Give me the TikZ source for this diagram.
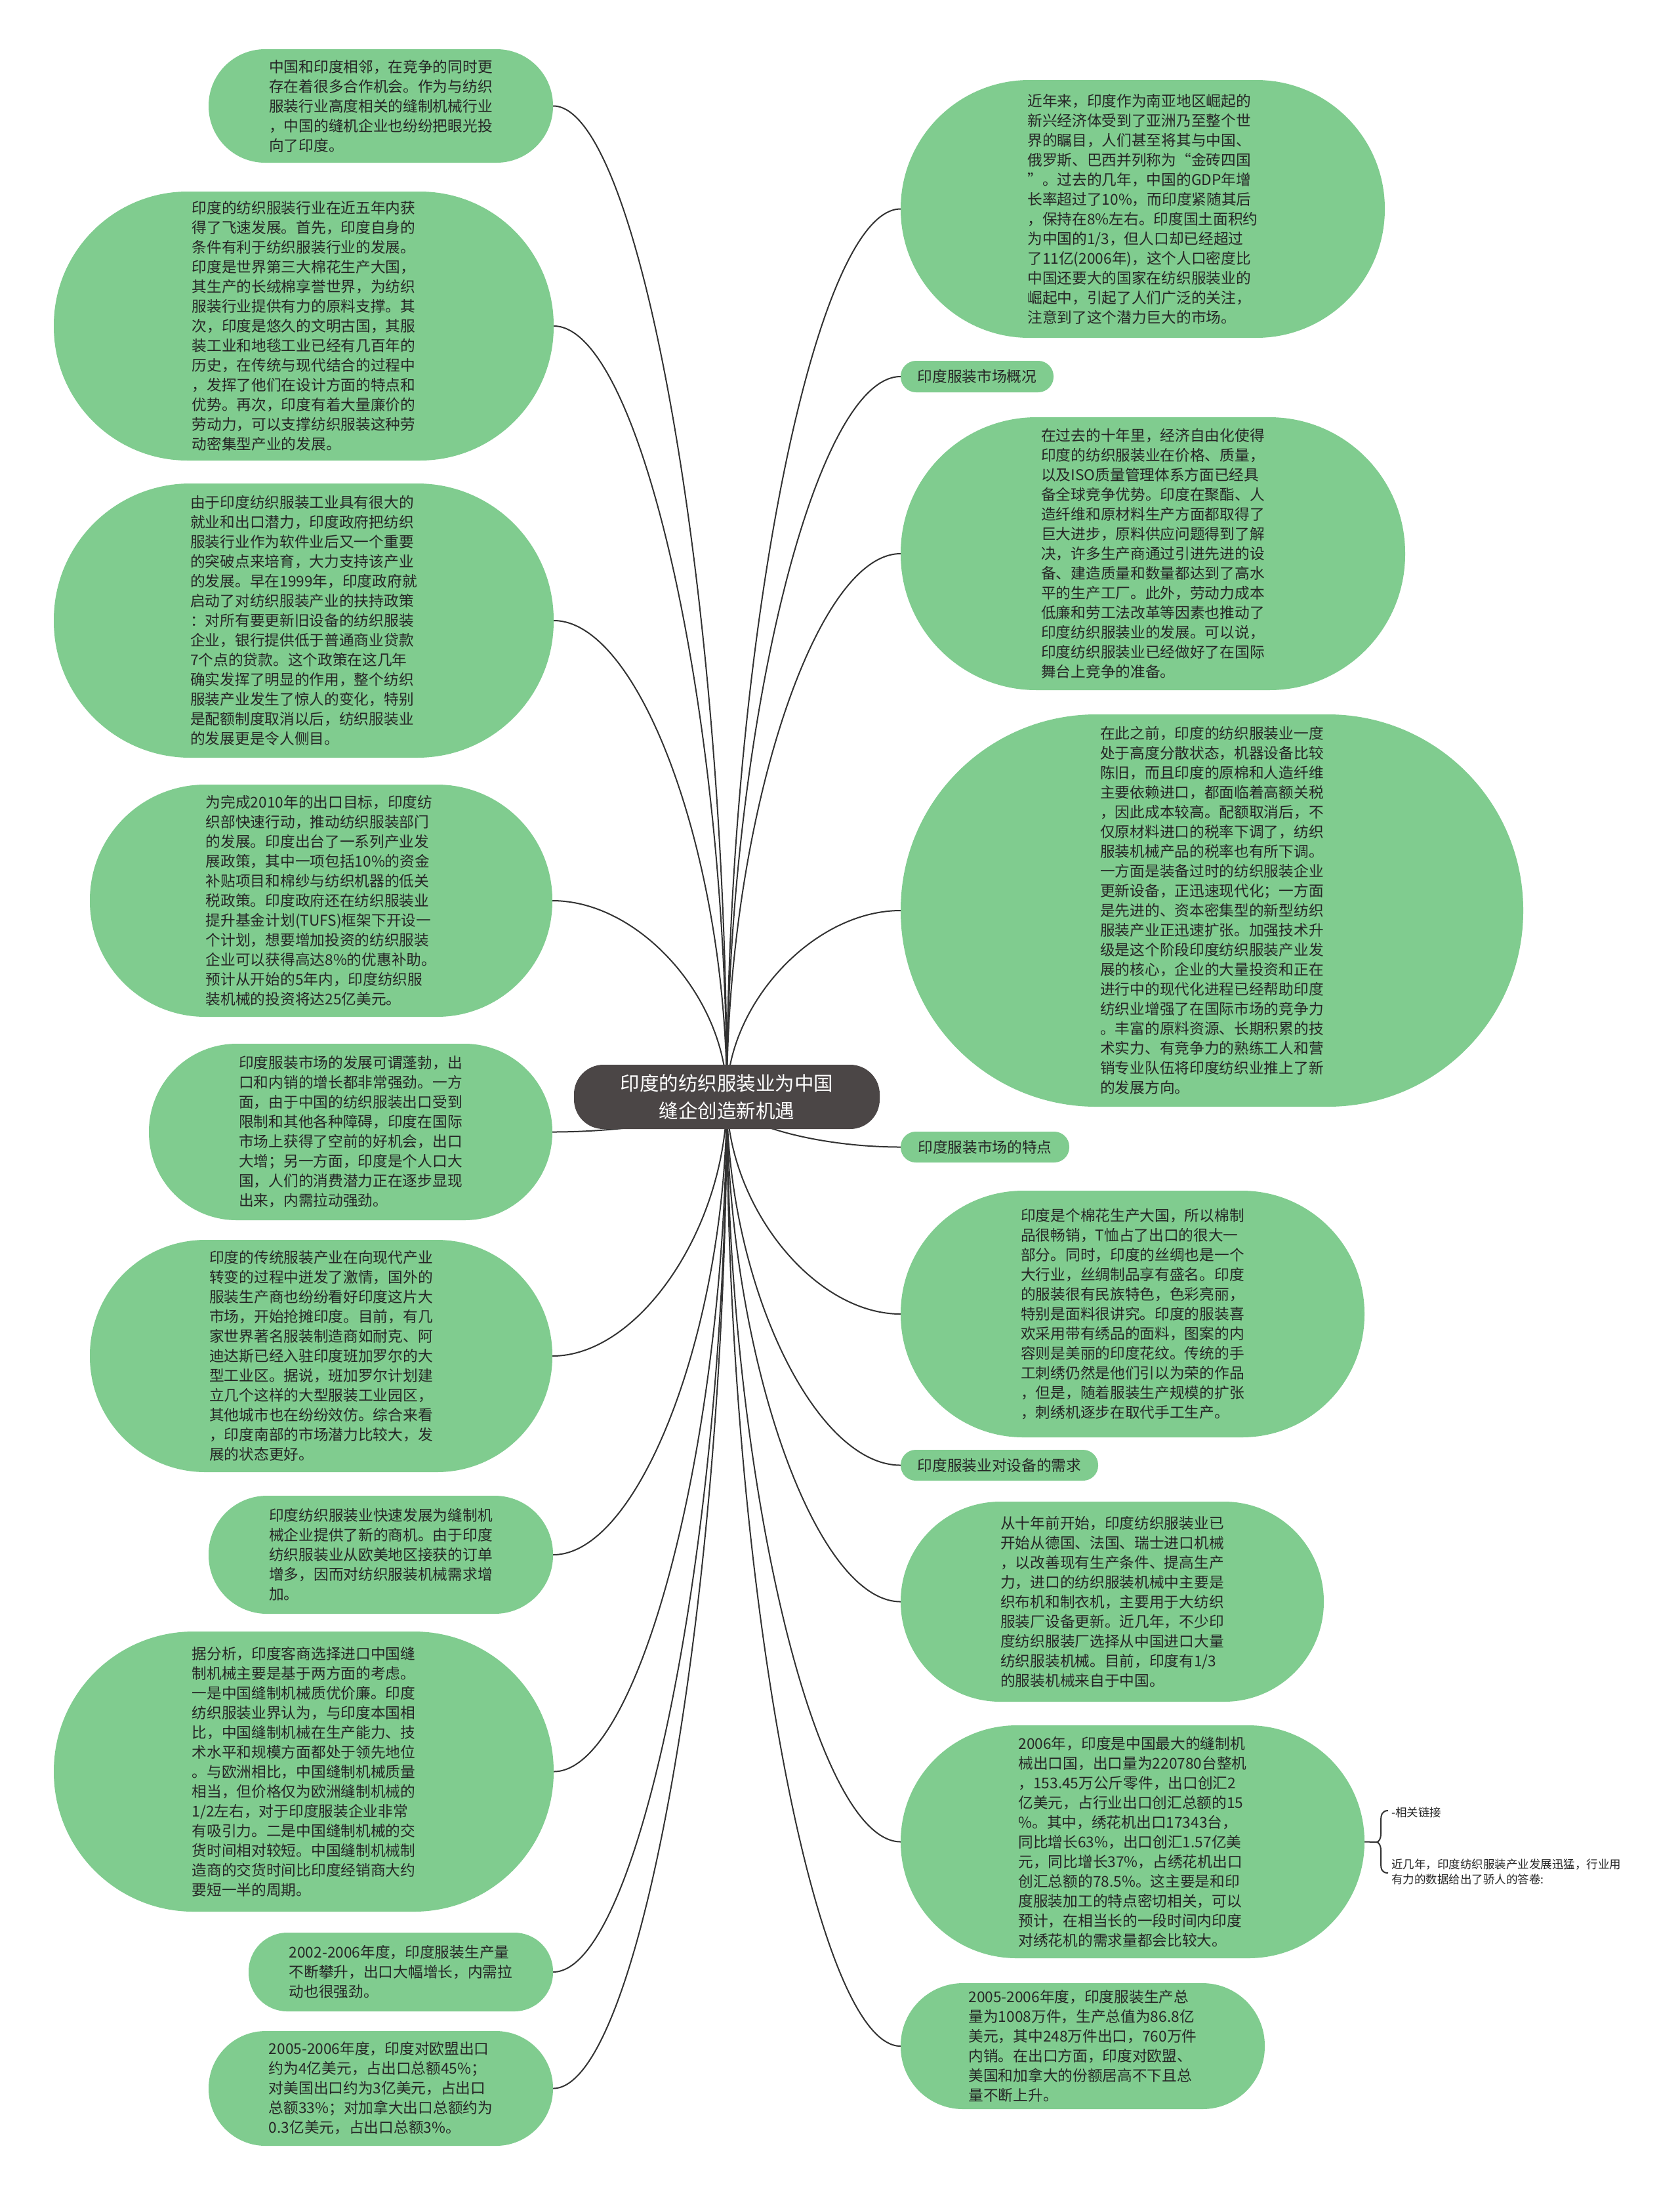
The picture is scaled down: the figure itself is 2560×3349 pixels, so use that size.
\documentclass[tikz,border=0pt]{standalone}
\usepackage{fontspec}
\setmainfont{Noto Sans CJK SC}
\usetikzlibrary{calc}
\definecolor{nodegreen}{RGB}{128,204,143}
\definecolor{txtc}{RGB}{38,38,38}
\definecolor{rootc}{RGB}{75,70,70}
\definecolor{linec}{RGB}{50,50,50}
\pgfdeclarelayer{bg}
\pgfsetlayers{bg,main}
\newcommand\mmbranch[2]{\draw[conn] let \p1=(#1), \p2=(#2) in (\p1) .. controls (\x1,{0.5*(\y1+\y2)}) and ({0.5*(\x1+\x2)},\y2) .. (\p2);}
\begin{document}
\begin{tikzpicture}[x=1pt,y=-1pt,
  gbox/.style={fill=nodegreen, text=txtc, inner sep=0pt, align=left, font=\fontsize{22.7}{30}\selectfont},
  rootbox/.style={fill=rootc, text=white, inner sep=0pt, align=center, font=\fontsize{29.5}{42}\selectfont},
  smalltxt/.style={text=txtc, inner sep=0pt, align=left, font=\fontsize{17.5}{23}\selectfont},
  conn/.style={draw=linec, line width=2pt}]
\useasboundingbox (0,0) rectangle (2560,3349);

\node[rootbox, minimum width=466, minimum height=98, rounded corners=45] (root) at (1108,1672) {印度的纺织服装业为中国\\缝企创造新机遇};

% left side
\node[gbox, minimum width=525, minimum height=173, rounded corners=86] (L1) at (580.5,161.5) {中国和印度相邻，在竞争的同时更\\存在着很多合作机会。作为与纺织\\服装行业高度相关的缝制机械行业\\，中国的缝机企业也纷纷把眼光投\\向了印度。};
\node[gbox, minimum width=762, minimum height=410, rounded corners=204] (L2) at (463,497) {印度的纺织服装行业在近五年内获\\得了飞速发展。首先，印度自身的\\条件有利于纺织服装行业的发展。\\印度是世界第三大棉花生产大国，\\其生产的长绒棉享誉世界，为纺织\\服装行业提供有力的原料支撑。其\\次，印度是悠久的文明古国，其服\\装工业和地毯工业已经有几百年的\\历史，在传统与现代结合的过程中\\，发挥了他们在设计方面的特点和\\优势。再次，印度有着大量廉价的\\劳动力，可以支撑纺织服装这种劳\\动密集型产业的发展。};
\node[gbox, minimum width=762, minimum height=418, rounded corners=208] (L3) at (463,946) {由于印度纺织服装工业具有很大的\\就业和出口潜力，印度政府把纺织\\服装行业作为软件业后又一个重要\\的突破点来培育，大力支持该产业\\的发展。早在1999年，印度政府就\\启动了对纺织服装产业的扶持政策\\：对所有要更新旧设备的纺织服装\\企业，银行提供低于普通商业贷款\\7个点的贷款。这个政策在这几年\\确实发挥了明显的作用，整个纺织\\服装产业发生了惊人的变化，特别\\是配额制度取消以后，纺织服装业\\的发展更是令人侧目。};
\node[gbox, minimum width=705, minimum height=354, rounded corners=176] (L4) at (489.5,1373) {为完成2010年的出口目标，印度纺\\织部快速行动，推动纺织服装部门\\的发展。印度出台了一系列产业发\\展政策，其中一项包括10\%的资金\\补贴项目和棉纱与纺织机器的低关\\税政策。印度政府还在纺织服装业\\提升基金计划(TUFS)框架下开设一\\个计划，想要增加投资的纺织服装\\企业可以获得高达8\%的优惠补助。\\预计从开始的5年内，印度纺织服\\装机械的投资将达25亿美元。};
\node[gbox, minimum width=615, minimum height=269, rounded corners=134] (L5) at (534.5,1725.5) {印度服装市场的发展可谓蓬勃，出\\口和内销的增长都非常强劲。一方\\面，由于中国的纺织服装出口受到\\限制和其他各种障碍，印度在国际\\市场上获得了空前的好机会，出口\\大增；另一方面，印度是个人口大\\国，人们的消费潜力正在逐步显现\\出来，内需拉动强劲。};
\node[gbox, minimum width=705, minimum height=354, rounded corners=176] (L6) at (489.5,2067) {印度的传统服装产业在向现代产业\\转变的过程中迸发了激情，国外的\\服装生产商也纷纷看好印度这片大\\市场，开始抢摊印度。目前，有几\\家世界著名服装制造商如耐克、阿\\迪达斯已经入驻印度班加罗尔的大\\型工业区。据说，班加罗尔计划建\\立几个这样的大型服装工业园区，\\其他城市也在纷纷效仿。综合来看\\，印度南部的市场潜力比较大，发\\展的状态更好。};
\node[gbox, minimum width=525, minimum height=180, rounded corners=89] (L7) at (580.5,2370) {印度纺织服装业快速发展为缝制机\\械企业提供了新的商机。由于印度\\纺织服装业从欧美地区接获的订单\\增多，因而对纺织服装机械需求增\\加。};
\node[gbox, minimum width=762, minimum height=427, rounded corners=213] (L8) at (463,2700.5) {据分析，印度客商选择进口中国缝\\制机械主要是基于两方面的考虑。\\一是中国缝制机械质优价廉。印度\\纺织服装业界认为，与印度本国相\\比，中国缝制机械在生产能力、技\\术水平和规模方面都处于领先地位\\。与欧洲相比，中国缝制机械质量\\相当，但价格仅为欧洲缝制机械的\\1/2左右，对于印度服装企业非常\\有吸引力。二是中国缝制机械的交\\货时间相对较短。中国缝制机械制\\造商的交货时间比印度经销商大约\\要短一半的周期。};
\node[gbox, minimum width=464, minimum height=120, rounded corners=59] (L9) at (611,3006) {2002-2006年度，印度服装生产量\\不断攀升，出口大幅增长，内需拉\\动也很强劲。};
\node[gbox, minimum width=525, minimum height=175, rounded corners=87] (L10) at (580.5,3183.5) {2005-2006年度，印度对欧盟出口\\约为4亿美元，占出口总额45\%；\\对美国出口约为3亿美元，占出口\\总额33\%；对加拿大出口总额约为\\0.3亿美元，占出口总额3\%。};

% right side
\node[gbox, minimum width=738, minimum height=393, rounded corners=196] (R1) at (1742,318.5) {近年来，印度作为南亚地区崛起的\\新兴经济体受到了亚洲乃至整个世\\界的瞩目，人们甚至将其与中国、\\俄罗斯、巴西并列称为“金砖四国\\”。过去的几年，中国的GDP年增\\长率超过了10\%，而印度紧随其后\\，保持在8\%左右。印度国土面积约\\为中国的1/3，但人口却已经超过\\了11亿(2006年)，这个人口密度比\\中国还要大的国家在纺织服装业的\\崛起中，引起了人们广泛的关注，\\注意到了这个潜力巨大的市场。};
\node[gbox, minimum width=233, minimum height=48, rounded corners=23.5] (R2) at (1489.5,574) {印度服装市场概况};
\node[gbox, minimum width=769, minimum height=416, rounded corners=207] (R3) at (1757.5,844) {在过去的十年里，经济自由化使得\\印度的纺织服装业在价格、质量，\\以及ISO质量管理体系方面已经具\\备全球竞争优势。印度在聚酯、人\\造纤维和原材料生产方面都取得了\\巨大进步，原料供应问题得到了解\\决，许多生产商通过引进先进的设\\备、建造质量和数量都达到了高水\\平的生产工厂。此外，劳动力成本\\低廉和劳工法改革等因素也推动了\\印度纺织服装业的发展。可以说，\\印度纺织服装业已经做好了在国际\\舞台上竞争的准备。};
\node[gbox, minimum width=949, minimum height=598, rounded corners=298] (R4) at (1847.5,1388) {在此之前，印度的纺织服装业一度\\处于高度分散状态，机器设备比较\\陈旧，而且印度的原棉和人造纤维\\主要依赖进口，都面临着高额关税\\，因此成本较高。配额取消后，不\\仅原材料进口的税率下调了，纺织\\服装机械产品的税率也有所下调。\\一方面是装备过时的纺织服装企业\\更新设备，正迅速现代化；一方面\\是先进的、资本密集型的新型纺织\\服装产业正迅速扩张。加强技术升\\级是这个阶段印度纺织服装产业发\\展的核心，企业的大量投资和正在\\进行中的现代化进程已经帮助印度\\纺织业增强了在国际市场的竞争力\\。丰富的原料资源、长期积累的技\\术实力、有竞争力的熟练工人和营\\销专业队伍将印度纺织业推上了新\\的发展方向。};
\node[gbox, minimum width=257, minimum height=47, rounded corners=23] (R5) at (1501.5,1748.5) {印度服装市场的特点};
\node[gbox, minimum width=707, minimum height=376, rounded corners=187] (R6) at (1726.5,2003) {印度是个棉花生产大国，所以棉制\\品很畅销，T恤占了出口的很大一\\部分。同时，印度的丝绸也是一个\\大行业，丝绸制品享有盛名。印度\\的服装很有民族特色，色彩亮丽，\\特别是面料很讲究。印度的服装喜\\欢采用带有绣品的面料，图案的内\\容则是美丽的印度花纹。传统的手\\工刺绣仍然是他们引以为荣的作品\\，但是，随着服装生产规模的扩张\\，刺绣机逐步在取代手工生产。};
\node[gbox, minimum width=301, minimum height=47, rounded corners=23] (R7) at (1523.5,2233.5) {印度服装业对设备的需求};
\node[gbox, minimum width=645, minimum height=305, rounded corners=152] (R8) at (1695.5,2441.5) {从十年前开始，印度纺织服装业已\\开始从德国、法国、瑞士进口机械\\，以改善现有生产条件、提高生产\\力，进口的纺织服装机械中主要是\\织布机和制衣机，主要用于大纺织\\服装厂设备更新。近几年，不少印\\度纺织服装厂选择从中国进口大量\\纺织服装机械。目前，印度有1/3\\的服装机械来自于中国。};
\node[gbox, minimum width=707, minimum height=355, rounded corners=177] (R9) at (1726.5,2807.5) {2006年，印度是中国最大的缝制机\\械出口国，出口量为220780台整机\\，153.45万公斤零件，出口创汇2\\亿美元，占行业出口创汇总额的15\\\%。其中，绣花机出口17343台，\\同比增长63\%，出口创汇1.57亿美\\元，同比增长37\%，占绣花机出口\\创汇总额的78.5\%。这主要是和印\\度服装加工的特点密切相关，可以\\预计，在相当长的一段时间内印度\\对绣花机的需求量都会比较大。};
\node[gbox, minimum width=555, minimum height=192, rounded corners=95] (R10) at (1650.5,3119) {2005-2006年度，印度服装生产总\\量为1008万件，生产总值为86.8亿\\美元，其中248万件出口，760万件\\内销。在出口方面，印度对欧盟、\\美国和加拿大的份额居高不下且总\\量不断上升。};

% related notes
\coordinate (brc) at (2098,2808);
\coordinate (brtop) at (2116,2760);
\coordinate (brbot) at (2116,2855);
\node[smalltxt, anchor=west] (rel1) at (2121,2763) {-相关链接};
\node[smalltxt, anchor=west] (rel2) at (2121,2853.5) {近几年，印度纺织服装产业发展迅猛，行业用\\有力的数据给出了骄人的答卷:};

\begin{pgfonlayer}{bg}
\fill[white] (0,0) rectangle (2560,3349);
\foreach \nd in {L1,L2,L3,L4,L5,L6,L7,L8,L9,L10}{\mmbranch{root.center}{\nd.east}}
\foreach \nd in {R1,R2,R3,R4,R5,R6,R7,R8,R9,R10}{\mmbranch{root.center}{\nd.west}}
\draw[conn] (R9.east) -- (brc);
\draw[conn] (brtop) .. controls (2107,2760) and (2105,2766) .. (2105,2776) -- (2105,2795) .. controls (2105,2803) and (2102,2808) .. (brc) .. controls (2102,2808) and (2105,2813) .. (2105,2821) -- (2105,2840) .. controls (2105,2850) and (2107,2855) .. (brbot);
\end{pgfonlayer}
\end{tikzpicture}
\end{document}
